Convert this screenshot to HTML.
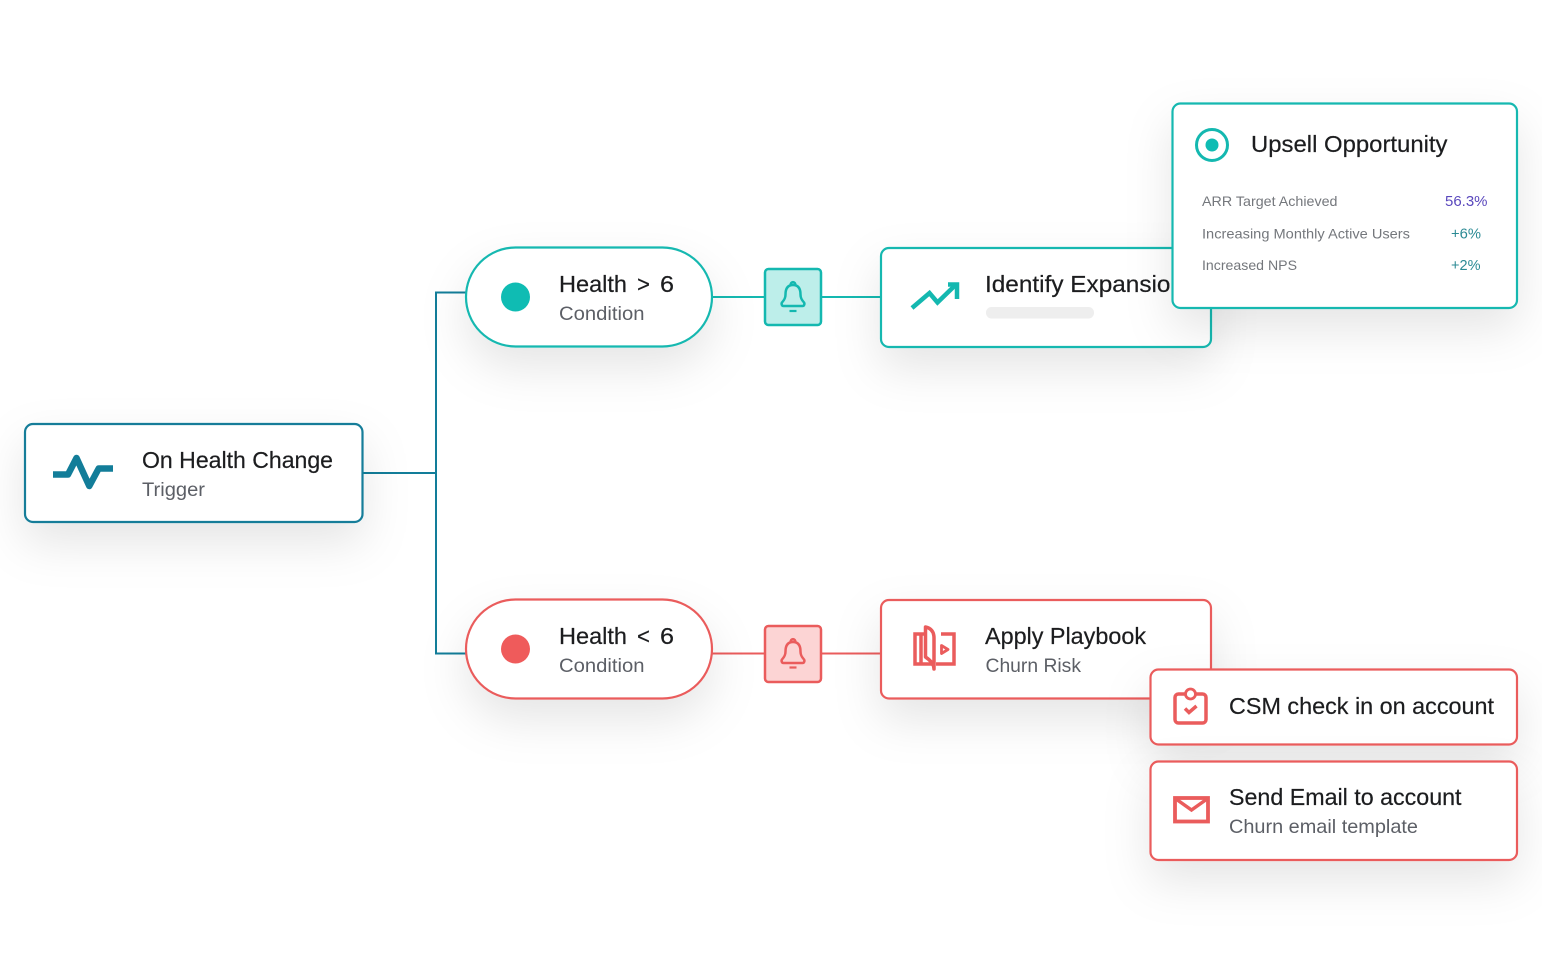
<!DOCTYPE html>
<html><head><meta charset="utf-8">
<style>
html,body{margin:0;padding:0;background:#fff;width:1542px;height:963px;overflow:hidden}
svg{display:block}
text{font-family:"Liberation Sans",sans-serif}
.t{font-size:23px;fill:#1c1d1f;stroke:#1c1d1f;stroke-width:.2}
.s{font-size:19.5px;fill:#5c5f66}
.m{font-size:14px;fill:#74777c}
.v{font-size:14.5px}
</style></head><body>
<svg width="1542" height="963" viewBox="0 0 1542 963" xmlns="http://www.w3.org/2000/svg">
<defs>
<filter id="sh" x="-50%" y="-80%" width="200%" height="320%">
<feDropShadow dx="0" dy="20" stdDeviation="23" flood-color="#000" flood-opacity="0.10"/>
</filter>
</defs>

<!-- connectors -->
<path d="M362 473H436M466 292.500H436V653.500H466" fill="none" stroke="#127d99" stroke-width="2"/>
<path d="M712 297H765M821 297H881" fill="none" stroke="#14b8b0" stroke-width="2"/>
<path d="M712 653.500H765M821 653.500H881" fill="none" stroke="#ea5c5c" stroke-width="2"/>

<!-- trigger -->
<rect x="25" y="424" width="337.500" height="98" rx="8" fill="#fff" stroke="#127d99" stroke-width="2.200" filter="url(#sh)"/>
<path d="M53 474.500H68L76.500 458L89.300 486L98.700 468.500H113" fill="none" stroke="#127d99" stroke-width="6.500" stroke-linejoin="round"/>
<text class="t" x="142" y="468" textLength="191" lengthAdjust="spacingAndGlyphs">On Health Change</text>
<text class="s" x="142" y="496" textLength="63" lengthAdjust="spacingAndGlyphs">Trigger</text>

<!-- teal pill -->
<rect x="466" y="247.500" width="246" height="99" rx="49.500" fill="#fff" stroke="#14b8b0" stroke-width="2.200" filter="url(#sh)"/>
<circle cx="515.500" cy="297" r="14.500" fill="#0fbcb3"/>
<text class="t" x="559" y="292" textLength="68" lengthAdjust="spacingAndGlyphs">Health</text>
<text class="t" x="637" y="292" textLength="13" lengthAdjust="spacingAndGlyphs">&gt;</text>
<text class="t" x="660" y="292" textLength="14" lengthAdjust="spacingAndGlyphs">6</text>
<text class="s" x="559" y="320" textLength="85.500" lengthAdjust="spacingAndGlyphs">Condition</text>

<!-- teal bell -->
<rect x="765" y="269" width="56" height="56" rx="3.500" fill="#bdeeea" stroke="#14b8b0" stroke-width="2.500"/>
<path d="M793 285c-6 0-7.500 4.500-7.500 9.500 0 4.500-2 6-3.500 8-1 1.500 0 3.500 1.500 3.500h19c1.500 0 2.500-2 1.500-3.500-1.500-2-3.500-3.500-3.500-8 0-5-1.500-9.500-7.500-9.500zM790.500 285.500c0-4.500 5-4.500 5 0" fill="none" stroke="#14b8b0" stroke-width="2.500" stroke-linejoin="round"/>
<path d="M789.500 311H796.500" stroke="#14b8b0" stroke-width="2.200"/>

<!-- identify -->
<rect x="881" y="248" width="330" height="99" rx="8" fill="#fff" stroke="#14b8b0" stroke-width="2.200" filter="url(#sh)"/>
<path d="M912 308L929.500 293L937.500 302.500L956.500 284" fill="none" stroke="#14b8b0" stroke-width="4.500"/>
<path d="M948 284.500H957V299" fill="none" stroke="#14b8b0" stroke-width="4.500"/>
<text class="t" x="985" y="292" textLength="199" lengthAdjust="spacingAndGlyphs">Identify Expansion</text>
<rect x="986" y="307" width="108" height="11.500" rx="5.500" fill="#eeeeee"/>

<!-- upsell -->
<rect x="1172.500" y="103.500" width="344.500" height="204.500" rx="8" fill="#fff" stroke="#14b8b0" stroke-width="2.200" filter="url(#sh)"/>
<circle cx="1212" cy="145" r="15.500" fill="none" stroke="#14b8b0" stroke-width="3"/>
<circle cx="1212" cy="145" r="6.500" fill="#0fbcb3"/>
<text class="t" x="1251" y="152" textLength="196.500" lengthAdjust="spacingAndGlyphs">Upsell Opportunity</text>
<text class="m" x="1202" y="206" textLength="135.500" lengthAdjust="spacingAndGlyphs">ARR Target Achieved</text>
<text class="m" x="1202" y="238.500" textLength="208" lengthAdjust="spacingAndGlyphs">Increasing Monthly Active Users</text>
<text class="m" x="1202" y="270" textLength="95" lengthAdjust="spacingAndGlyphs">Increased NPS</text>
<text class="v" x="1445" y="206" fill="#5a48bd" textLength="42.500" lengthAdjust="spacingAndGlyphs">56.3%</text>
<text class="v" x="1451" y="238.500" fill="#2b8a94" textLength="30" lengthAdjust="spacingAndGlyphs">+6%</text>
<text class="v" x="1451" y="270" fill="#2b8a94" textLength="29.500" lengthAdjust="spacingAndGlyphs">+2%</text>

<!-- red pill -->
<rect x="466" y="599.500" width="246" height="99" rx="49.500" fill="#fff" stroke="#ea5c5c" stroke-width="2.200" filter="url(#sh)"/>
<circle cx="515.500" cy="649" r="14.500" fill="#ef5b5b"/>
<text class="t" x="559" y="644" textLength="68" lengthAdjust="spacingAndGlyphs">Health</text>
<text class="t" x="637" y="644" textLength="13" lengthAdjust="spacingAndGlyphs">&lt;</text>
<text class="t" x="660" y="644" textLength="14" lengthAdjust="spacingAndGlyphs">6</text>
<text class="s" x="559" y="672" textLength="85.500" lengthAdjust="spacingAndGlyphs">Condition</text>

<!-- red bell -->
<rect x="765" y="626" width="56" height="56" rx="3.500" fill="#fcd4d4" stroke="#ea5c5c" stroke-width="2.500"/>
<path d="M793 642c-6 0-7.500 4.500-7.500 9.500 0 4.500-2 6-3.500 8-1 1.500 0 3.500 1.500 3.500h19c1.500 0 2.500-2 1.500-3.500-1.500-2-3.500-3.500-3.500-8 0-5-1.500-9.500-7.500-9.500zM790.500 642.500c0-4.500 5-4.500 5 0" fill="none" stroke="#ea5c5c" stroke-width="2.500" stroke-linejoin="round"/>
<path d="M789.500 667.500H796.500" stroke="#ea5c5c" stroke-width="2.200"/>

<!-- playbook -->
<rect x="881" y="600" width="330" height="98.500" rx="8" fill="#fff" stroke="#ea5c5c" stroke-width="2.200" filter="url(#sh)"/>
<path d="M925 634H915V664H932M941 634H954V664H936M921 634V664" fill="none" stroke="#ea5c5c" stroke-width="3.500"/>
<path d="M925.500 627C931 628 934 632 934 638V669C934 664 930 660 925.500 657Z" fill="#fff" stroke="#ea5c5c" stroke-width="3.500" stroke-linejoin="round"/>
<path d="M941.500 645.500L948 649.500L941.500 653.500Z" fill="#fff" stroke="#ea5c5c" stroke-width="2.800" stroke-linejoin="round"/>
<text class="t" x="985" y="644" textLength="161" lengthAdjust="spacingAndGlyphs">Apply Playbook</text>
<text class="s" x="985.500" y="672" textLength="95.500" lengthAdjust="spacingAndGlyphs">Churn Risk</text>

<!-- csm -->
<rect x="1150.500" y="669.500" width="366.500" height="75" rx="8" fill="#fff" stroke="#ea5c5c" stroke-width="2.200" filter="url(#sh)"/>
<rect x="1175" y="694" width="31" height="29" rx="3.500" fill="none" stroke="#ea5c5c" stroke-width="3.500"/>
<circle cx="1190.500" cy="694" r="5" fill="#fff" stroke="#ea5c5c" stroke-width="2.800"/>
<path d="M1185 708.500L1189 712.500L1196.500 706" fill="none" stroke="#ea5c5c" stroke-width="3.500"/>
<text class="t" x="1229" y="714" textLength="265" lengthAdjust="spacingAndGlyphs">CSM check in on account</text>

<!-- send -->
<rect x="1150.500" y="761.500" width="366.500" height="98.500" rx="8" fill="#fff" stroke="#ea5c5c" stroke-width="2.200" filter="url(#sh)"/>
<rect x="1175" y="798" width="33" height="23.500" fill="none" stroke="#ea5c5c" stroke-width="3.800"/>
<path d="M1176 799L1191.500 810L1207 799" fill="none" stroke="#ea5c5c" stroke-width="3.500"/>
<text class="t" x="1229" y="805" textLength="232.500" lengthAdjust="spacingAndGlyphs">Send Email to account</text>
<text class="s" x="1229" y="833" textLength="189" lengthAdjust="spacingAndGlyphs">Churn email template</text>
</svg>
</body></html>
